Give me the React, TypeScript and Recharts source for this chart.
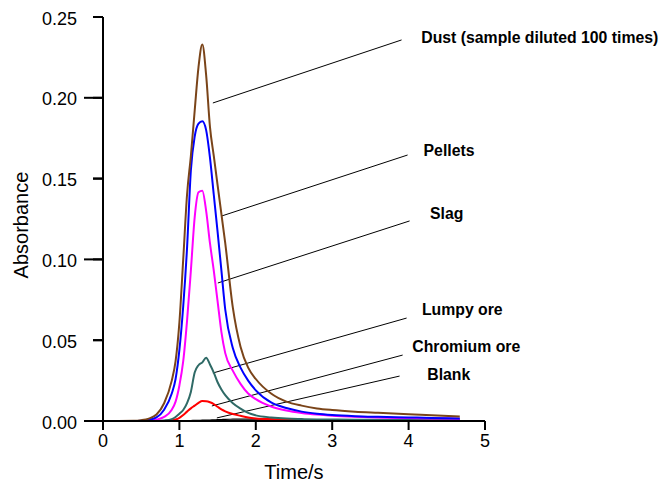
import React from 'react';
import {
  LineChart,
  Line,
  XAxis,
  YAxis,
  ReferenceLine,
  ReferenceDot,
} from 'recharts';

// time axis (s)
const times = [
  0, 0.2, 0.4, 0.5, 0.6, 0.7, 0.8, 0.9, 0.95, 1.0, 1.05, 1.1, 1.15, 1.2, 1.25, 1.3, 1.35, 1.4,
  1.45, 1.5, 1.55, 1.6, 1.7, 1.8, 1.9, 2.0, 2.2, 2.4, 2.6, 2.8, 3.0, 3.3, 3.6, 4.0, 4.3, 4.67,
];

// absorbance per sample
const dust = [
  0, 0, 0.0001, 0.0005, 0.0015, 0.004, 0.011, 0.025, 0.037, 0.061, 0.1, 0.14, 0.164, 0.192,
  0.219, 0.233, 0.214, 0.182, 0.164, 0.146, 0.128, 0.11, 0.07, 0.046, 0.033, 0.026, 0.017,
  0.012, 0.0095, 0.0078, 0.0068, 0.0058, 0.0051, 0.0042, 0.0036, 0.0028,
];
const pellets = [
  0, 0, 0, 0.0002, 0.0008, 0.0022, 0.007, 0.017, 0.026, 0.044, 0.071, 0.107, 0.155, 0.176,
  0.184, 0.1855, 0.18, 0.163, 0.14, 0.117, 0.093, 0.069, 0.045, 0.033, 0.025, 0.019, 0.0115,
  0.008, 0.0058, 0.0045, 0.0037, 0.003, 0.0026, 0.0022, 0.0019, 0.0016,
];
const slag = [
  0, 0, 0, 0, 0.0002, 0.0008, 0.0025, 0.007, 0.012, 0.022, 0.037, 0.062, 0.093, 0.126, 0.1415,
  0.1425, 0.13, 0.11, 0.093, 0.074, 0.055, 0.042, 0.031, 0.023, 0.017, 0.0135, 0.009, 0.0065,
  0.005, 0.004, 0.0033, 0.0026, 0.0021, 0.0018, 0.0016, 0.0014,
];
const lumpyOre = [
  0, 0, 0, 0, 0, 0, 0.0003, 0.0012, 0.0025, 0.0045, 0.0068, 0.011, 0.018, 0.03, 0.0345, 0.0363,
  0.0392, 0.035, 0.03, 0.024, 0.0195, 0.016, 0.011, 0.0077, 0.005, 0.0035, 0.0022, 0.0015,
  0.0012, 0.001, 0.0009, 0.0008, 0.0008, 0.0007, 0.0007, 0.0007,
];
const chromiumOre = [
  0, 0, 0, 0, 0, 0, 0, 0.0003, 0.0009, 0.002, 0.0037, 0.0058, 0.0078, 0.0095, 0.0112, 0.0123,
  0.0122, 0.0116, 0.0105, 0.0088, 0.0072, 0.006, 0.0043, 0.0032, 0.0022, 0.0016, 0.0011, 0.0008,
  0.0005, 0.0004, 0.0003, 0.0003, 0.0002, 0.0002, 0.0002, 0.0002,
];
const blank = [
  0, 0, 0, 0, 0, 0, 0, 0, 0.0001, 0.0002, 0.0003, 0.0003, 0.0003, 0.0004, 0.0004, 0.0005,
  0.0005, 0.0006, 0.0007, 0.0008, 0.0009, 0.001, 0.0011, 0.0012, 0.0012, 0.0012, 0.0011, 0.001,
  0.0009, 0.0008, 0.0008, 0.0007, 0.0006, 0.0006, 0.0005, 0.0005,
];

const xTicks = [0, 1, 2, 3, 4, 5];
const yTicks = [0, 0.05, 0.1, 0.15, 0.2, 0.25];

// annotation labels and their leader lines (data coordinates)
const noteTexts = [
  'Dust (sample diluted 100 times)',
  'Pellets',
  'Slag',
  'Lumpy ore',
  'Chromium ore',
  'Blank',
];
const noteAt = [
  [4.166, 0.2376],
  [4.196, 0.1674],
  [4.28, 0.1281],
  [4.174, 0.0693],
  [4.048, 0.0458],
  [4.244, 0.0285],
];
const leaderFrom = [
  [1.438, 0.1968],
  [1.556, 0.1269],
  [1.503, 0.0854],
  [1.438, 0.0297],
  [1.425, 0.0093],
  [1.49, 0.0019],
];
const leaderTo = [
  [3.908, 0.2358],
  [3.987, 0.1646],
  [4.013, 0.1238],
  [3.974, 0.0637],
  [3.922, 0.0408],
  [3.882, 0.0278],
];

const chartData = times.map((t, i) => ({
  t,
  dust: dust[i],
  pellets: pellets[i],
  slag: slag[i],
  lumpy: lumpyOre[i],
  chromium: chromiumOre[i],
  blank: blank[i],
}));

const FONT = "Arial, 'Liberation Sans', sans-serif";
const isMajor = (v: number) => Math.round(v * 100) % 10 === 0;

// x is the text anchor: axis line - tickSize(10) - tickMargin(16)
const YTick = (props: any) => {
  const { x, y, payload } = props;
  const axisX = Number(x) + 26;
  const len = isMajor(payload.value) ? 19 : 10;
  return (
    <g>
      <rect x={axisX - len} y={Number(y) - 1} width={len} height={2} fill="#000" />
      <text
        x={x}
        y={y}
        dy={1.5}
        textAnchor="end"
        dominantBaseline="central"
        fontSize={18}
        fill="#000"
        fontFamily={FONT}
      >
        {payload.value.toFixed(2)}
      </text>
    </g>
  );
};

const YTitle = (props: any) => {
  const { viewBox } = props;
  const cx = viewBox.x - 22;
  const cy = viewBox.y + viewBox.height / 2 + 6;
  return (
    <text
      x={cx}
      y={cy}
      transform={`rotate(-90, ${cx}, ${cy})`}
      textAnchor="middle"
      dominantBaseline="central"
      fontSize={20}
      fill="#000"
      fontFamily={FONT}
    >
      Absorbance
    </text>
  );
};

const App: React.FC = () => {
  return (
    <div style={{ position: 'absolute', left: 0, top: 0, background: '#fff' }}>
      <LineChart
        width={663}
        height={485}
        data={chartData}
        margin={{ top: 17, right: 178, bottom: 0, left: 43 }}
        style={{ fontFamily: FONT }}
      >
        <XAxis
          dataKey="t"
          type="number"
          domain={[0, 5]}
          ticks={xTicks}
          height={64}
          stroke="#000"
          strokeWidth={2}
          tickSize={9}
          tickMargin={4}
          tick={{ fill: '#000', fontSize: 18 }}
          label={{ value: 'Time/s', position: 'insideBottom', offset: 6, fill: '#000', fontSize: 20 }}
        />
        <YAxis
          type="number"
          domain={[0, 0.25]}
          ticks={yTicks}
          width={60}
          stroke="#000"
          strokeWidth={2}
          tickSize={10}
          tickMargin={16}
          tick={<YTick />}
          label={<YTitle />}
        />
        {leaderFrom.map((p, i) => (
          <ReferenceLine
            key={'l' + i}
            segment={[
              { x: p[0], y: p[1] },
              { x: leaderTo[i][0], y: leaderTo[i][1] },
            ]}
            stroke="#000"
            strokeWidth={1}
            ifOverflow="visible"
          />
        ))}
        <Line type="monotone" dataKey="blank" stroke="#000000" strokeWidth={1.2} dot={false} isAnimationActive={false} />
        <Line type="monotone" dataKey="chromium" stroke="#ff0000" strokeWidth={2} dot={false} isAnimationActive={false} />
        <Line type="monotone" dataKey="lumpy" stroke="#2f6a66" strokeWidth={2} dot={false} isAnimationActive={false} />
        <Line type="monotone" dataKey="slag" stroke="#ff00ff" strokeWidth={2} dot={false} isAnimationActive={false} />
        <Line type="monotone" dataKey="pellets" stroke="#0000ff" strokeWidth={2} dot={false} isAnimationActive={false} />
        <Line type="monotone" dataKey="dust" stroke="#7a4419" strokeWidth={2} dot={false} isAnimationActive={false} />
        {noteAt.map((p, i) => (
          <ReferenceDot
            key={'n' + i}
            x={p[0]}
            y={p[1]}
            r={1}
            ifOverflow="visible"
            shape={(s: any) => (
              <text
                x={s.cx}
                y={s.cy}
                dominantBaseline="central"
                fontSize={15.8}
                fontWeight="bold"
                fill="#000"
                fontFamily={FONT}
              >
                {noteTexts[i]}
              </text>
            )}
          />
        ))}
      </LineChart>
    </div>
  );
};

export default App;
